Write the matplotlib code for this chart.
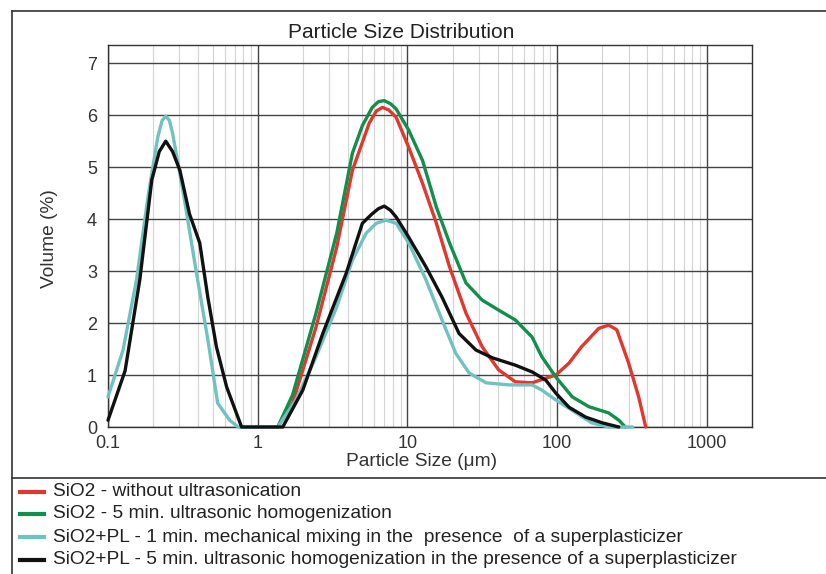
import numpy as np
import matplotlib.pyplot as plt
from matplotlib.lines import Line2D
from matplotlib.ticker import FixedLocator, NullFormatter, LogLocator

plt.rcParams['font.family'] = ['Liberation Sans', 'DejaVu Sans']

#------------------------------------------------- data
red_x = [1.36, 1.71, 2.45, 3.37, 4.29, 5.56, 6.2, 6.8, 7.5, 8.4, 10.2, 12.6, 15.6, 19.1,
         24.6, 31.6, 40.6, 52.5, 68, 84, 98, 120, 145, 190, 221, 250, 300, 350, 390]
red_y = [0.0, 0.46, 1.92, 3.46, 4.94, 5.85, 6.08, 6.15, 6.1, 5.96, 5.38, 4.69, 3.92, 3.08,
         2.19, 1.54, 1.1, 0.87, 0.85, 0.94, 1.0, 1.23, 1.54, 1.9, 1.96, 1.87, 1.23, 0.58, 0.0]

green_x = [1.36, 1.71, 2.45, 3.37, 4.29, 5.0, 5.82, 6.4, 7.0, 7.7, 8.4, 10.2, 12.6, 15.6,
           19.1, 24.6, 31.6, 40.6, 52.5, 68, 79, 98, 126, 163, 221, 258, 285]
green_y = [0.0, 0.62, 2.19, 3.73, 5.27, 5.8, 6.15, 6.26, 6.28, 6.22, 6.12, 5.71, 5.13, 4.23,
           3.54, 2.77, 2.44, 2.25, 2.06, 1.73, 1.35, 0.96, 0.58, 0.39, 0.27, 0.13, 0.0]

cyan_x = [0.1, 0.126, 0.155, 0.185, 0.215, 0.23, 0.243, 0.257, 0.27, 0.316, 0.39, 0.465,
          0.54, 0.65, 0.74, 1.36, 1.8, 2.45, 3.37, 4.29, 5.3, 6.2, 7.2, 8.4, 10.2, 13.3,
          17.0, 21.0, 25.8, 33.5, 47.8, 68, 79, 98, 134, 170, 221, 320]
cyan_y = [0.58, 1.48, 2.83, 4.43, 5.58, 5.9, 5.98, 5.9, 5.65, 4.56, 2.96, 1.67,
          0.46, 0.13, 0.0, 0.0, 0.52, 1.35, 2.31, 3.21, 3.73, 3.92, 3.98, 3.92, 3.54, 2.83,
          2.06, 1.42, 1.04, 0.85, 0.81, 0.81, 0.71, 0.52, 0.27, 0.08, 0.0, 0.0]

black_x = [0.1, 0.13, 0.163, 0.196, 0.22, 0.243, 0.27, 0.302, 0.35, 0.41, 0.464, 0.53,
           0.62, 0.78, 1.47, 2.0, 2.72, 3.9, 5.0, 5.8, 6.4, 7.0, 7.7, 8.4, 10.2, 13.3,
           17.0, 22.1, 28.7, 37, 52.5, 68, 84, 98, 120, 155, 200, 258]
black_y = [0.13, 1.08, 2.83, 4.75, 5.3, 5.5, 5.3, 4.94, 4.1, 3.54, 2.5, 1.54,
           0.77, 0.0, 0.0, 0.71, 1.8, 2.96, 3.92, 4.1, 4.2, 4.25, 4.17, 4.04, 3.65, 3.08,
           2.5, 1.8, 1.48, 1.33, 1.19, 1.06, 0.9, 0.65, 0.38, 0.19, 0.08, 0.0]

labels = ['SiO2 - without ultrasonication',
          'SiO2 - 5 min. ultrasonic homogenization',
          'SiO2+PL - 1 min. mechanical mixing in the  presence  of a superplasticizer',
          'SiO2+PL - 5 min. ultrasonic homogenization in the presence of a superplasticizer']
colors = ['#e0372f', '#10904a', '#6fc2c0', '#111111']
x_ticks = [0.1, 1, 10, 100, 1000]
x_ticklabels = ['0.1', '1', '10', '100', '1000']
y_ticks = [0, 1, 2, 3, 4, 5, 6, 7]
###################################################################
fig = plt.figure(figsize=(8.26, 5.74), dpi=100)
ax = fig.add_axes([108/826, 1-427/574, (752-108)/826, (427-45)/574])

series = [(red_x, red_y), (green_x, green_y), (cyan_x, cyan_y), (black_x, black_y)]
order = [2, 3, 1, 0]   # drawing order: red and green on top
for i in order:
    xs, ys = series[i]
    ax.plot(xs, ys, color=colors[i], lw=2.4, solid_joinstyle='round',
            solid_capstyle='round', zorder=3 + i, clip_on=False)

ax.set_xscale('log')
ax.set_xlim(0.1, 2000)
ax.set_ylim(0, 7.35)
ax.xaxis.set_major_locator(FixedLocator(x_ticks))
ax.set_xticklabels(x_ticklabels)
ax.xaxis.set_minor_locator(LogLocator(base=10, subs=np.arange(2, 10)))
ax.xaxis.set_minor_formatter(NullFormatter())
ax.set_yticks(y_ticks)
ax.tick_params(which='both', length=0, labelsize=13, colors='#333333')
ax.tick_params(axis='x', pad=6)
ax.tick_params(axis='y', pad=8)
#---------------------------------
ax.grid(which='major', axis='both', color='#444444', lw=1.0)
ax.grid(which='minor', axis='x', color='#d4d4d4', lw=0.8)
ax.set_axisbelow(True)
for s in ax.spines.values():
    s.set_color('#333333')
    s.set_linewidth(1.0)

fig.text(401/826, 1-33/574, 'Particle Size Distribution', fontsize=15,
         color='#222222', ha='center', va='center')
fig.text(422/826, 1-461/574, 'Particle Size (\u03bcm)', fontsize=13.8,
         color='#333333', ha='center', va='center')
fig.text(49/826, 1-239/574, 'Volume (%)', fontsize=13.8, color='#333333',
         ha='center', va='center', rotation=90)

#------------- outer frame and separator
fig.add_artist(Line2D([12/826, 12/826], [0, 1-11/574], color='#333333', lw=1.2))
fig.add_artist(Line2D([12/826, 1], [1-11/574, 1-11/574], color='#333333', lw=1.2))
fig.add_artist(Line2D([12/826, 1], [1-478/574, 1-478/574], color='#333333', lw=1.2))

#------------- legend
rows = [492, 514, 537, 560]
for lab, c, yy in zip(labels, colors, rows):
    fy = 1 - yy/574
    fig.add_artist(Line2D([20/826, 44/826], [fy, fy], color=c, lw=3))
    fig.text(53/826, fy, lab, fontsize=13.8, color='#222222', va='center', ha='left')

fig.savefig('out.png', dpi=100)
